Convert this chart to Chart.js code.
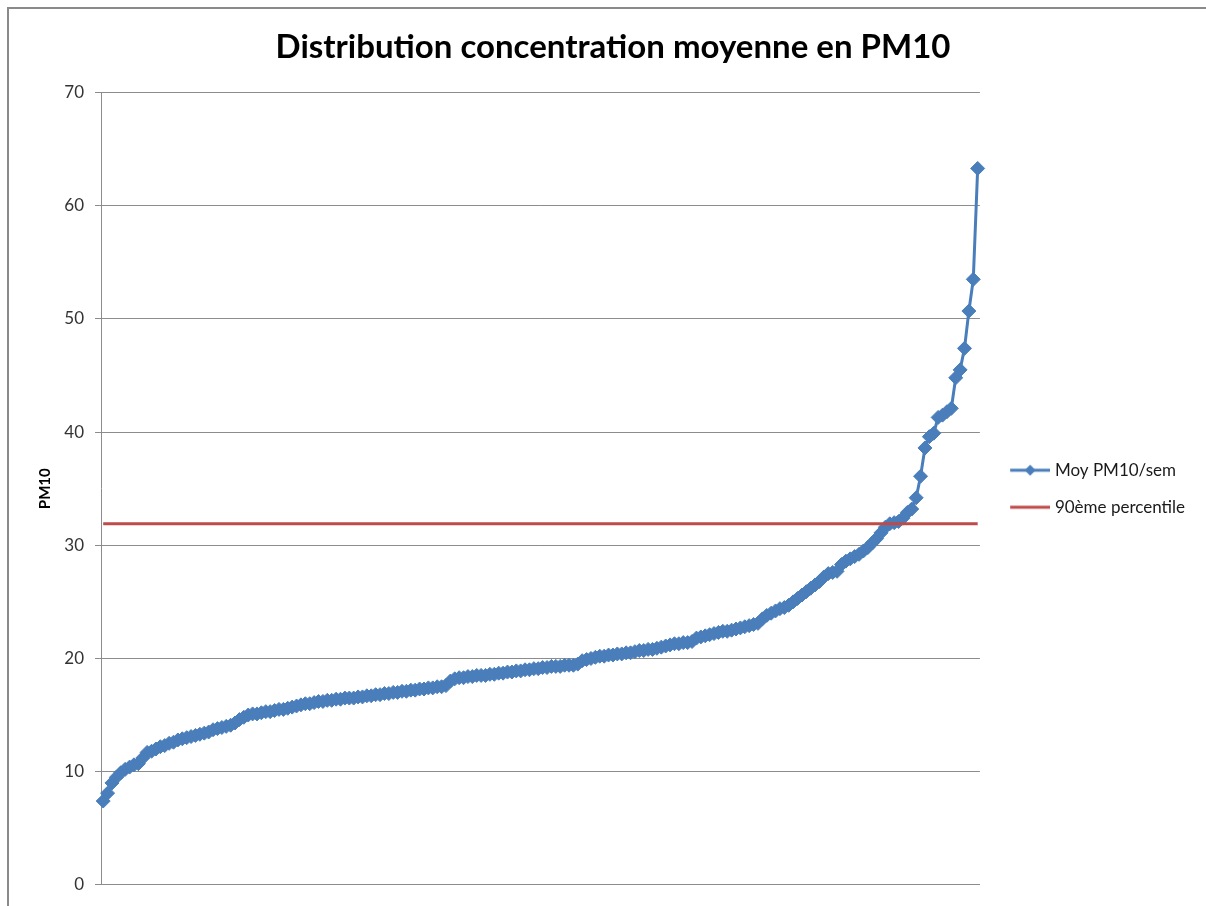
<!DOCTYPE html>
<html>
<head>
<meta charset="utf-8">
<title>Distribution concentration moyenne en PM10</title>
<script src="https://cdn.jsdelivr.net/npm/chart.js@4.4.1/dist/chart.umd.min.js"></script>
<style>
    html, body { margin: 0; padding: 0; background: #fff; overflow: hidden; }
    #frame {
        position: absolute; left: 7px; top: 7px; width: 1300px; height: 1000px;
        border-left: 2px solid #8a8a8a; border-top: 2px solid #8a8a8a;
    }
    #myChart { position: absolute; left: 0; top: 0; }
</style>
</head>
<body>
<div id="frame"></div>
<canvas id="myChart" width="1206" height="906"></canvas>
<script>
// weekly mean PM10, sorted ascending
const pm10Values = [
    7.4, 8.1, 9.0, 9.5, 9.9, 10.2, 10.4, 10.6, 10.7, 11.2,
    11.7, 11.8, 12.0, 12.2, 12.3, 12.5, 12.6, 12.8, 12.9, 13.0,
    13.1, 13.2, 13.3, 13.4, 13.5, 13.7, 13.8, 13.9, 14.0, 14.1,
    14.3, 14.6, 14.8, 15.0, 15.1, 15.1, 15.2, 15.3, 15.3, 15.4,
    15.5, 15.5, 15.6, 15.7, 15.8, 15.9, 16.0, 16.0, 16.1, 16.2,
    16.2, 16.3, 16.3, 16.4, 16.4, 16.5, 16.5, 16.5, 16.6, 16.6,
    16.7, 16.7, 16.8, 16.8, 16.9, 16.9, 17.0, 17.0, 17.1, 17.1,
    17.2, 17.2, 17.3, 17.3, 17.4, 17.4, 17.5, 17.5, 17.6, 18.0,
    18.2, 18.3, 18.3, 18.4, 18.4, 18.5, 18.5, 18.5, 18.6, 18.6,
    18.7, 18.7, 18.8, 18.8, 18.9, 18.9, 19.0, 19.0, 19.1, 19.1,
    19.2, 19.2, 19.3, 19.3, 19.3, 19.4, 19.4, 19.4, 19.5, 19.8,
    19.9, 20.0, 20.1, 20.2, 20.2, 20.3, 20.3, 20.4, 20.4, 20.5,
    20.5, 20.6, 20.7, 20.7, 20.8, 20.8, 20.9, 21.0, 21.1, 21.2,
    21.3, 21.3, 21.4, 21.4, 21.5, 21.8, 21.9, 22.0, 22.1, 22.2,
    22.3, 22.4, 22.4, 22.5, 22.6, 22.7, 22.8, 22.9, 23.0, 23.1,
    23.5, 23.8, 24.0, 24.2, 24.4, 24.5, 24.7, 25.0, 25.3, 25.6,
    25.9, 26.2, 26.5, 26.8, 27.2, 27.5, 27.6, 27.7, 28.3, 28.6,
    28.8, 29.0, 29.2, 29.5, 29.8, 30.2, 30.6, 31.1, 31.6, 31.9,
    32.0, 32.1, 32.4, 32.9, 33.2, 34.2, 36.1, 38.6, 39.6, 39.9,
    41.3, 41.5, 41.8, 42.1, 44.8, 45.5, 47.4, 50.7, 53.5, 63.3
];

const percentile90 = 31.9;
const percentileValues = pm10Values.map(() => percentile90);

// week numbers, not shown on the axis
const weekLabels = pm10Values.map((v, i) => String(i + 1));

const yTicks = { min: 0, max: 70, step: 10 };

const blue = '#4a7ebb';
const red = '#be4b48';
const gridColor = '#8c8c8c';

// little line(+diamond) pictures for the legend
function legendSample(color, withMarker) {
    const c = document.createElement('canvas');
    c.width = 54;
    c.height = 14;
    const ctx = c.getContext('2d');
    ctx.strokeStyle = color;
    ctx.lineWidth = 3;
    ctx.beginPath();
    ctx.moveTo(14, 7);
    ctx.lineTo(54, 7);
    ctx.stroke();
    if (withMarker) {
        ctx.fillStyle = color;
        ctx.beginPath();
        ctx.moveTo(34, 1.5);
        ctx.lineTo(39.5, 7);
        ctx.lineTo(34, 12.5);
        ctx.lineTo(28.5, 7);
        ctx.closePath();
        ctx.fill();
    }
    return c;
}
const legendSamples = [legendSample(blue, true), legendSample(red, false)];

const data = {
    labels: weekLabels,
    datasets: [{
            label: 'Moy PM10/sem',
            data: pm10Values,
            borderColor: blue,
            backgroundColor: blue,
            borderWidth: 3,
            pointStyle: 'rectRot',
            pointRadius: 7,
            pointBorderWidth: 1,
            pointBorderColor: blue,
            pointBackgroundColor: blue,
            order: 1
        },
        {
            label: '90ème percentile',
            data: percentileValues,
            borderColor: red,
            backgroundColor: red,
            borderWidth: 3,
            pointRadius: 0,
            order: 0
        }
    ]
};

const config = {
    type: 'line',
    data: data,
    options: {
        responsive: false,
        animation: false,
        devicePixelRatio: 1,
        layout: {
            padding: { left: 31, top: 10, right: 11, bottom: 12 }
        },
        plugins: {
            title: {
                display: true,
                text: 'Distribution concentration moyenne en PM10',
                color: '#000',
                font: { family: 'Lato', size: 33, weight: 'bold' },
                padding: { top: 18, bottom: 25 }
            },
            legend: {
                position: 'right',
                fullSize: false,
                labels: {
                    usePointStyle: true,
                    pointStyleWidth: 46.5,
                    padding: 20,
                    color: '#1a1a1a',
                    font: { family: 'Lato', size: 17 },
                    sort: function (a, b) {
                        return a.datasetIndex - b.datasetIndex;
                    },
                    generateLabels: function (chart) {
                        const items = Chart.defaults.plugins.legend.labels.generateLabels(chart);
                        items.forEach(function (item) {
                            item.pointStyle = legendSamples[item.datasetIndex];
                        });
                        return items;
                    }
                }
            },
            tooltip: { enabled: false }
        },
        scales: {
            x: {
                offset: true,
                grid: { display: false },
                ticks: { display: false },
                border: { display: true, color: gridColor, width: 1 }
            },
            y: {
                min: yTicks.min,
                max: yTicks.max,
                ticks: {
                    stepSize: yTicks.step,
                    padding: 11,
                    color: '#333',
                    font: { family: 'Lato', size: 17 }
                },
                grid: { color: gridColor, tickLength: 6 },
                border: { display: true, color: gridColor, width: 1 },
                title: {
                    display: true,
                    text: 'PM10',
                    color: '#000',
                    font: { family: 'Lato', size: 15, weight: 'bold' },
                    padding: { top: 5, bottom: 0 }
                },
                afterFit: function (scale) {
                    scale.width = 70;
                }
            }
        }
    }
};

var myChart = new Chart(document.getElementById('myChart'), config);

// keep the plot box where the original has it
const area = myChart.chartArea;
const shiftRight = area.right - 980;
const shiftBottom = area.bottom - 885;
if (Math.abs(shiftRight) > 0.5 || Math.abs(shiftBottom) > 0.5) {
    myChart.options.layout.padding.right += shiftRight;
    myChart.options.layout.padding.bottom += shiftBottom;
    myChart.update();
}
</script>
</body>
</html>
